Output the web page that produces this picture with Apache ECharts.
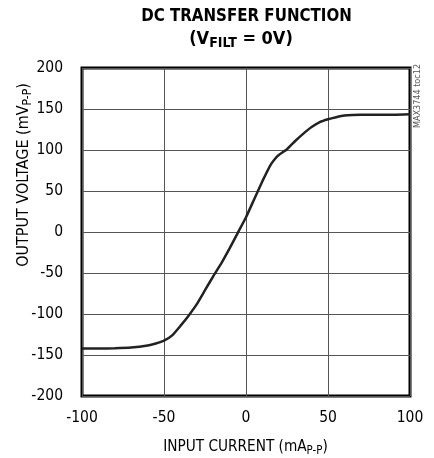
<!DOCTYPE html>
<html>
<head>
<meta charset="utf-8">
<script src="https://cdn.jsdelivr.net/npm/echarts@6/dist/echarts.min.js"></script>
<style>
html,body{margin:0;padding:0;background:#fff;}
#c{width:434px;height:458px;}
</style>
</head>
<body>
<div id="c"></div>
<script>
var inputCurrent = [-100, -90, -80, -70, -60, -55, -50, -45, -40, -35, -30, -25, -20, -15, -10, -5, 0, 5, 10, 15, 18, 20, 25, 30, 35, 40, 45, 50, 55, 60, 65, 70, 80, 90, 100];
var outputVoltage = [-142, -142, -141.8, -141, -138.5, -136, -132.5, -126, -114.5, -102, -88, -71, -54, -38, -20, -1, 18, 40, 62, 82, 90, 94, 101, 111, 120, 128, 134, 137.5, 140, 142, 142.8, 143, 143, 143, 143.5];
var xTicks = [-100, -50, 0, 50, 100];
var yTicks = [-200, -150, -100, -50, 0, 50, 100, 150, 200];

var FONT = "'Liberation Sans Narrow','DejaVu Sans Condensed',sans-serif";
var chart = echarts.init(document.getElementById('c'), null, {renderer: 'canvas'});
var data = inputCurrent.map(function (x, i) { return [x, outputVoltage[i]]; });

chart.setOption({
  backgroundColor: '#fff',
  animation: false,
  grid: {left: 82, right: 24, top: 68, bottom: 62, show: true, borderColor: '#000', borderWidth: 3, backgroundColor: 'transparent'},
  graphic: [
    {type: 'text', x: 246.5, y: 16, scaleX: 0.93, style: {text: 'DC TRANSFER FUNCTION', font: 'bold 18px ' + FONT, fill: '#000', align: 'center', verticalAlign: 'middle'}},
    {type: 'text', x: 241, y: 39, style: {
      text: '{a|(V}{s|FILT}{a| = 0V)}', align: 'center', verticalAlign: 'middle',
      rich: {a: {font: 'bold 18px ' + FONT, fill: '#000', verticalAlign: 'bottom'}, s: {font: 'bold 14px ' + FONT, fill: '#000', verticalAlign: 'bottom', padding: [0,0,-2,0]}}
    }},
    {type: 'text', x: 245.5, y: 447, scaleX: 0.95, style: {
      text: '{a|INPUT CURRENT (mA}{s|P-P}{a|)}', align: 'center', verticalAlign: 'middle',
      rich: {a: {font: '16px ' + FONT, fill: '#000', verticalAlign: 'bottom'}, s: {font: '12px ' + FONT, fill: '#000', verticalAlign: 'bottom', padding: [0,0,-2,0]}}
    }},
    {type: 'text', x: 24, y: 175, rotation: Math.PI / 2, style: {
      text: '{a|OUTPUT VOLTAGE (mV}{s|P-P}{a|)}', align: 'center', verticalAlign: 'middle',
      rich: {a: {font: '16px ' + FONT, fill: '#000', verticalAlign: 'bottom'}, s: {font: '12px ' + FONT, fill: '#000', verticalAlign: 'bottom', padding: [0,0,-2,0]}}
    }},
    {type: 'text', x: 418, y: 96, rotation: Math.PI / 2, style: {text: 'MAX3744 toc12', font: '9px ' + FONT, fill: '#555', align: 'center', verticalAlign: 'middle'}}
  ],
  xAxis: {
    type: 'value', min: xTicks[0], max: xTicks[xTicks.length - 1], interval: 50,
    axisLine: {show: false}, axisTick: {show: false},
    axisLabel: {fontFamily: FONT, fontSize: 15.5, color: '#000', margin: 14, formatter: function (v) { return xTicks.indexOf(v) >= 0 ? String(v) : ''; }},
    splitLine: {show: true, lineStyle: {color: '#555', width: 1}}
  },
  yAxis: {
    type: 'value', min: yTicks[0], max: yTicks[yTicks.length - 1], interval: 50,
    axisLine: {show: false}, axisTick: {show: false},
    axisLabel: {fontFamily: FONT, fontSize: 15.5, color: '#000', margin: 19, formatter: function (v) { return yTicks.indexOf(v) >= 0 ? String(v) : ''; }},
    splitLine: {show: true, lineStyle: {color: '#555', width: 1}}
  },
  series: [{
    type: 'line', data: data, smooth: 0.15, showSymbol: false, symbol: 'none',
    lineStyle: {color: '#222', width: 2.5}
  }]
});
</script>
</body>
</html>
